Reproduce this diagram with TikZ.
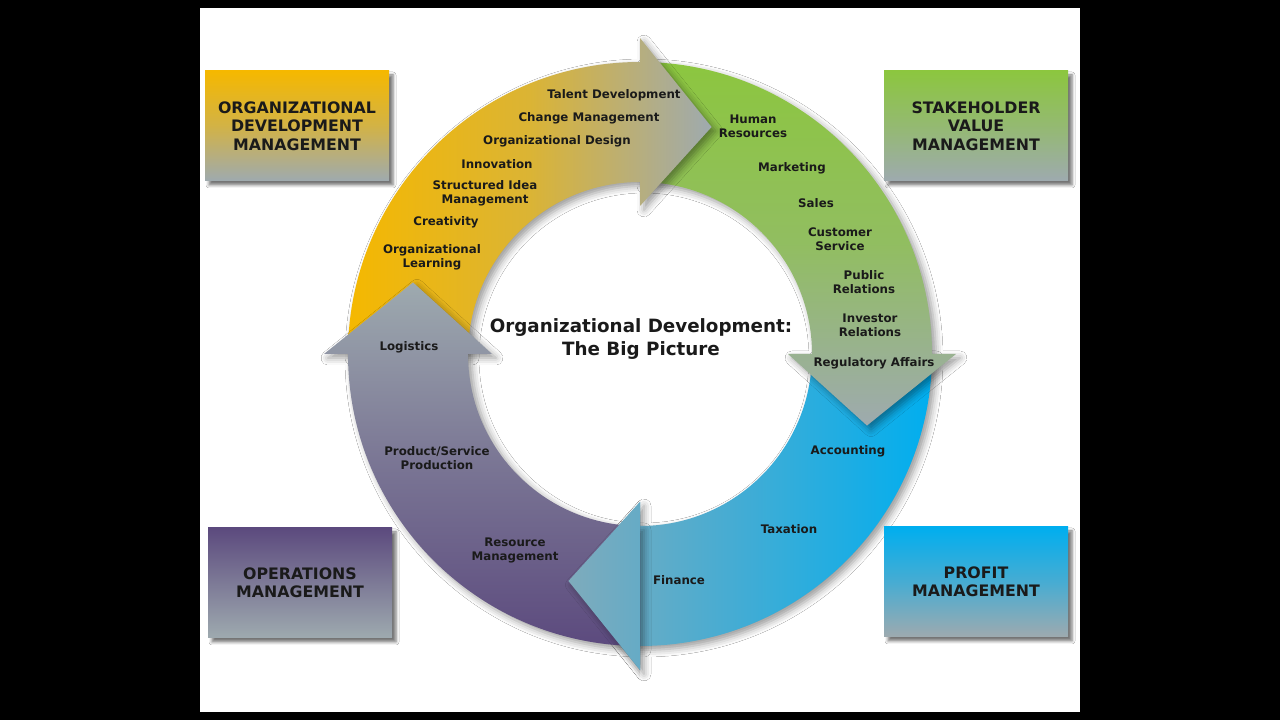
\documentclass[tikz,border=0pt]{standalone}
\usepackage{fontspec}
\setmainfont{DejaVu Sans}
\usepackage{tikz}
\usetikzlibrary{shadows.blur}

\definecolor{odyellow}{HTML}{F5B800}
\definecolor{odgreen}{HTML}{8CC63F}
\definecolor{odblue}{HTML}{00AEEF}
\definecolor{odpurple}{HTML}{5C4A7E}
\definecolor{odgray}{HTML}{9EAAAF}
\definecolor{odtext}{HTML}{1A1A1A}

\newcommand{\ringsegment}[1]{%
  (#1:292pt) arc[start angle=#1, end angle={#1-90}, radius=292pt]
  -- ({#1-90}:316pt) -- ({#1-107.5}:238pt) -- ({#1-90}:148pt)
  -- ({#1-90}:172pt) arc[start angle={#1-90}, end angle=#1, radius=172pt] -- cycle}

\begin{document}
\begin{tikzpicture}[x=1pt, y=1pt,
    segment/.style={blur shadow={shadow xshift=4pt, shadow yshift=-4pt, shadow blur radius=7pt, shadow opacity=40}},
    mgmtbox/.style={rectangle, minimum width=184pt, minimum height=110pt, inner sep=0pt, align=center,
        font=\fontsize{15.8}{18.5}\selectfont\bfseries, text=odtext,
        blur shadow={shadow xshift=4pt, shadow yshift=-4pt, shadow blur radius=3pt, shadow opacity=55}},
    lbl/.style={align=center, inner sep=0pt, font=\fontsize{11.8}{14}\selectfont\bfseries, text=odtext},
    title/.style={align=center, inner sep=0pt, font=\fontsize{18.3}{23}\selectfont\bfseries, text=odtext}]

    \useasboundingbox (0,0) rectangle (1280,720);
    \fill[black] (0,0) rectangle (1280,720);
    \fill[white] (200,8) rectangle (1080,712);

    \begin{scope}[shift={(640,366)}]
        \path[segment, left color=odgray!80!odblue, right color=odblue] \ringsegment{0};
        \path[segment, top color=odgreen, bottom color=odgray, middle color=odgreen!70!odgray] \ringsegment{90};
        \path[segment, left color=odyellow, right color=odgray, middle color=odyellow!70!odgray] \ringsegment{180};
        \path[segment, bottom color=odpurple, top color=odgray, middle color=odpurple!55!odgray] \ringsegment{-90};
        \begin{scope}
            \clip (0,0) -- (-90:420pt) -- (-125:420pt) -- cycle;
            \path[segment, left color=odgray!80!odblue, right color=odblue] \ringsegment{0};
        \end{scope}
    \end{scope}

    \node [mgmtbox, top color=odyellow, bottom color=odgray, middle color=odyellow!60!odgray] (odm) at (297,594) {ORGANIZATIONAL\\DEVELOPMENT\\MANAGEMENT};
    \node [mgmtbox, top color=odgreen, bottom color=odgray, middle color=odgreen!55!odgray] (svm) at (976,594) {STAKEHOLDER\\VALUE\\MANAGEMENT};
    \node [mgmtbox, top color=odpurple, bottom color=odgray, middle color=odpurple!50!odgray] (opm) at (300,137) {OPERATIONS\\MANAGEMENT};
    \node [mgmtbox, top color=odblue, bottom color=odgray, middle color=odblue!55!odgray] (prm) at (976,138) {PROFIT\\MANAGEMENT};

    \node [title] (bigpic) at (641,381) {Organizational Development:\\The Big Picture};

    \node [lbl] (talent) at (614,625) {Talent Development};
    \node [lbl] (change) at (589,602) {Change Management};
    \node [lbl] (orgdesign) at (557,579) {Organizational Design};
    \node [lbl] (innov) at (497,556) {Innovation};
    \node [lbl] (ideas) at (485,527) {Structured Idea\\Management};
    \node [lbl] (creat) at (446,498) {Creativity};
    \node [lbl] (learn) at (432,463) {Organizational\\Learning};

    \node [lbl] (hr) at (753,594) {Human\\Resources};
    \node [lbl] (mkt) at (792,552) {Marketing};
    \node [lbl] (sales) at (816,517) {Sales};
    \node [lbl] (cust) at (840,481) {Customer\\Service};
    \node [lbl] (pr) at (864,438) {Public\\Relations};
    \node [lbl] (ir) at (870,395) {Investor\\Relations};
    \node [lbl] (reg) at (874,357) {Regulatory Affairs};

    \node [lbl] (acct) at (848,269) {Accounting};
    \node [lbl] (tax) at (789,191) {Taxation};
    \node [lbl] (fin) at (679,140) {Finance};

    \node [lbl] (logi) at (409,373) {Logistics};
    \node [lbl] (prod) at (437,262) {Product/Service\\Production};
    \node [lbl] (res) at (515,170) {Resource\\Management};
\end{tikzpicture}
\end{document}
